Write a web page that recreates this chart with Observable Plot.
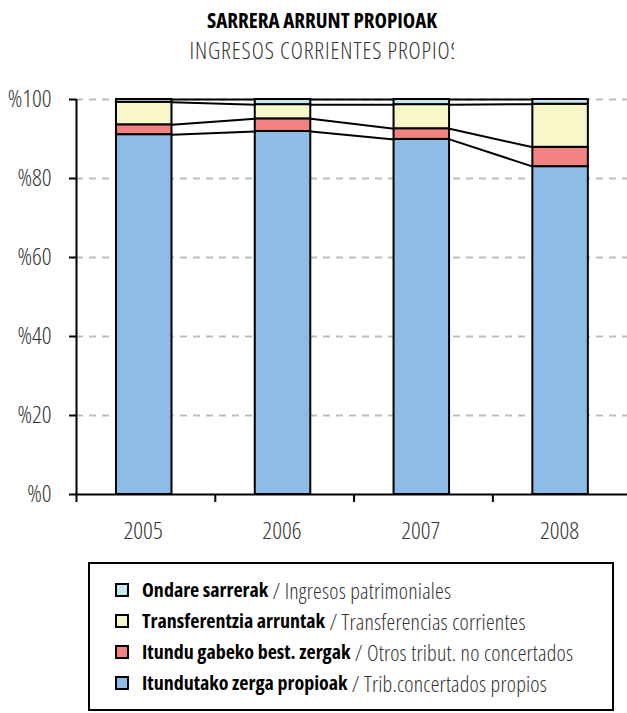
<!DOCTYPE html>
<html>
<head>
<meta charset="utf-8">
<script src="https://cdn.jsdelivr.net/npm/d3@7"></script>
<script src="https://cdn.jsdelivr.net/npm/@observablehq/plot@0.6"></script>
<style>
  html, body { margin: 0; padding: 0; background: #fff; }
  #page { position: relative; width: 627px; height: 713px; overflow: hidden; }
  #header { position: relative; height: 64px; }
  .title { position: absolute; left: 0; top: 11px; width: 644px; text-align: center;
    font-family: "Open Sans", "DejaVu Sans Condensed", sans-serif; font-stretch: 75%; font-weight: bold;
    font-size: 21px; line-height: 18px; color: #000; white-space: nowrap; }
  .subwrap { position: absolute; left: 0; top: 41px; width: 454px; height: 22px; overflow: hidden; }
  .subtitle { width: 650px; text-align: center;
    font-family: "Open Sans", "DejaVu Sans Condensed", sans-serif; font-stretch: 75%; font-weight: 300;
    font-size: 23px; line-height: 18px; letter-spacing: 0.9px; color: #333; white-space: nowrap; }
  #chart svg { display: block; }
  #legend { position: absolute; left: 88px; top: 562px; width: 526px; height: 149px;
    box-sizing: border-box; border: 2px solid #000; background: #fff; padding: 10px 0 0 25px; }
  .row { display: flex; align-items: center; height: 31px; }
  .sw { width: 14px; height: 14px; box-sizing: border-box; border: 2px solid #000; margin-right: 13px; flex: none; }
  .eu { font-family: "Open Sans", "DejaVu Sans Condensed", sans-serif; font-stretch: 75%; font-weight: bold; font-size: 20px; color: #000; white-space: pre; }
  .es { font-family: "Open Sans", "DejaVu Sans Condensed", sans-serif; font-stretch: 75%; font-weight: 300; font-size: 22px; letter-spacing: 0.2px; color: #333; white-space: pre; }
</style>
</head>
<body>
<div id="page">
  <div id="header">
    <div class="title" id="title"></div>
    <div class="subwrap"><div class="subtitle" id="subtitle"></div></div>
  </div>
  <div id="chart"></div>
  <div id="legend"></div>
</div>
<script>
// ---- Data ----
const years = ["2005", "2006", "2007", "2008"];
const seriesEu = ["Itundutako zerga propioak", "Itundu gabeko best. zergak", "Transferentzia arruntak", "Ondare sarrerak"];
const seriesEs = ["Trib.concertados propios", "Otros tribut. no concertados", "Transferencias corrientes", "Ingresos patrimoniales"];
const colors = ["#8DBDE6", "#F28282", "#F8F7C9", "#C6E7EF"];
// percentage shares, bottom to top
const itundutako = [91.1, 91.9, 89.9, 83.0];
const itunduGabe = [2.5, 3.2, 2.7, 4.9];
const transferentzia = [5.7, 3.6, 6.1, 10.9];
const ondare = [0.7, 1.3, 1.3, 1.2];
const yTicks = [0, 20, 40, 60, 80, 100];
const gridTicks = [20, 40, 60, 80, 100];
const titleText = "SARRERA ARRUNT PROPIOAK";
const subtitleText = "INGRESOS CORRIENTES PROPIOS";

document.getElementById("title").textContent = titleText;
document.getElementById("subtitle").textContent = subtitleText;

// ---- Build stacked rows ----
const seriesValues = [itundutako, itunduGabe, transferentzia, ondare];
const rows = [];
const cum = years.map(() => [0]);
years.forEach((yr, i) => {
  let acc = 0;
  seriesValues.forEach((vals, s) => {
    const y1 = acc, y2 = acc + vals[i];
    rows.push({i, year: yr, series: seriesEu[s], y1, y2});
    acc = y2;
    cum[i].push(acc);
  });
});
const barLo = 0.288, barHi = 0.688;
const links = [];
for (let i = 0; i < years.length - 1; i++) {
  for (let k = 1; k <= seriesValues.length; k++) {
    links.push({x1: i + barHi, y1: cum[i][k], x2: i + 1 + barLo, y2: cum[i + 1][k]});
  }
}

const axisFont = "'Open Sans', 'DejaVu Sans Condensed', sans-serif";
const chart = Plot.plot({
  width: 627,
  height: 490,
  marginTop: 35,
  marginBottom: 60,
  marginLeft: 76,
  marginRight: 0,
  style: {fontFamily: axisFont, fontStretch: "75%", fontWeight: 300, background: "#fff"},
  x: {domain: [0, 3.97], axis: null},
  y: {domain: [0, 100], axis: null},
  color: {domain: seriesEu, range: colors},
  marks: [
    Plot.ruleY(gridTicks, {stroke: "#bdbdbd", strokeWidth: 2, strokeDasharray: "7,6"}),
    Plot.rect(rows, {x1: d => d.i + barLo, x2: d => d.i + barHi, y1: "y1", y2: "y2", fill: "series", stroke: "#000", strokeWidth: 2}),
    Plot.link(links, {x1: "x1", y1: "y1", x2: "x2", y2: "y2", stroke: "#000", strokeWidth: 2}),
    Plot.ruleX([0], {y1: 0, y2: 100, stroke: "#000", strokeWidth: 2}),
    Plot.ruleY([0], {stroke: "#000", strokeWidth: 2}),
    Plot.axisY({ticks: yTicks, tickSize: 7, tickPadding: 18, strokeWidth: 2, stroke: "#000",
      tickFormat: d => "%" + d, fontSize: 24, fill: "#333", label: null}),
    Plot.axisX({ticks: years.map((_, i) => i), tickSize: 8, strokeWidth: 2, stroke: "#000", tickFormat: () => "", label: null}),
    Plot.text(years, {x: (d, i) => i + 0.48, y: () => 0, text: d => d, dy: 37, fontSize: 24, fill: "#333", textAnchor: "middle"})
  ]
});
document.getElementById("chart").appendChild(chart);

// ---- Legend ----
const legend = document.getElementById("legend");
for (let s = seriesEu.length - 1; s >= 0; s--) {
  const row = document.createElement("div");
  row.className = "row";
  const sw = document.createElement("span");
  sw.className = "sw";
  sw.style.background = colors[s];
  const eu = document.createElement("span");
  eu.className = "eu";
  eu.textContent = seriesEu[s];
  const es = document.createElement("span");
  es.className = "es";
  es.textContent = " / " + seriesEs[s];
  row.append(sw, eu, es);
  legend.appendChild(row);
}
</script>
</body>
</html>
